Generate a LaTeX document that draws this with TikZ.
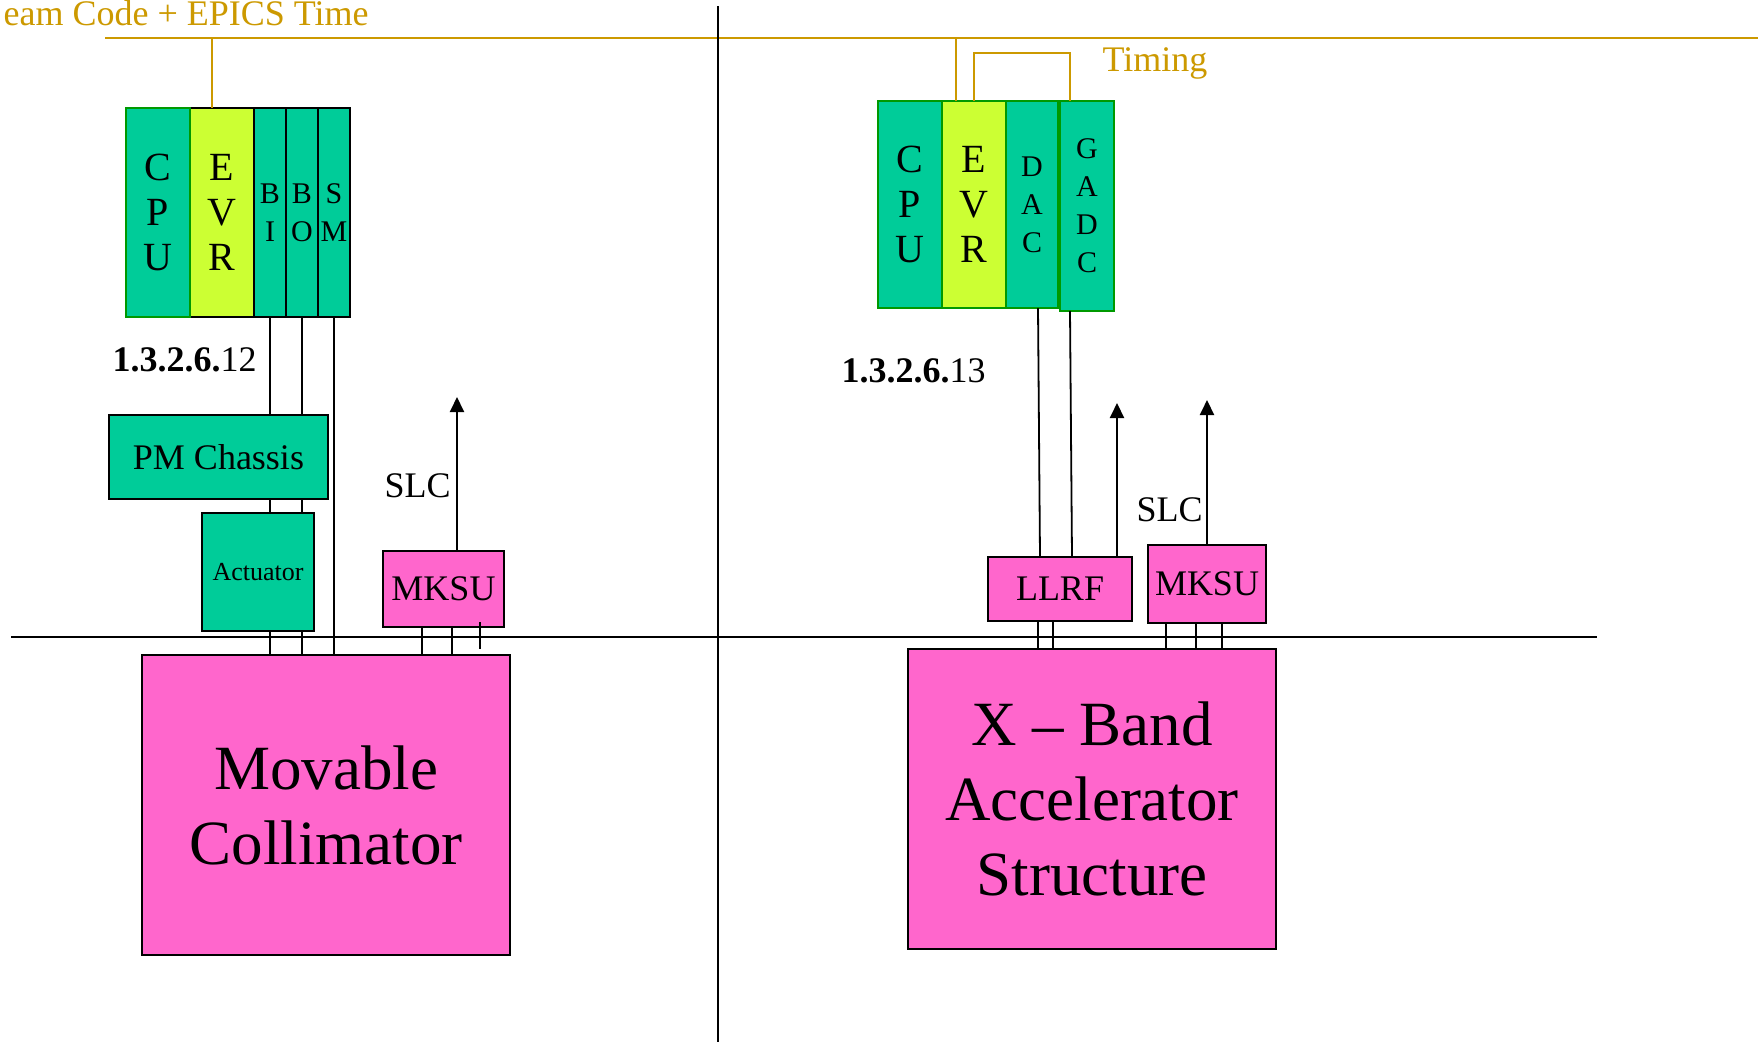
\documentclass[tikz,border=0pt]{standalone}
\usepackage{fontspec}
\setmainfont{Liberation Serif}
\definecolor{cardgreen}{HTML}{00CC99}
\definecolor{evrlime}{HTML}{CCFF33}
\definecolor{rfpink}{HTML}{FF66CC}
\definecolor{timegold}{HTML}{CC9900}
\definecolor{edgegreen}{HTML}{009900}
\usetikzlibrary{arrows.meta,positioning}
\tikzset{
  slot/.style={draw=black,line width=2pt,fill=cardgreen,inner sep=0pt,outer sep=0pt,align=center},
  wideslot/.style={slot,minimum width=64,font=\fontsize{40}{45}\selectfont},
  thinslot/.style={slot,font=\fontsize{30}{38}\selectfont},
  box/.style={draw=black,line width=2pt,fill=cardgreen,inner sep=0pt,outer sep=0pt,align=center},
  hot/.style={box,fill=rfpink},
  wire/.style={line width=1.8pt},
  tline/.style={timegold,line width=2pt},
  tlabel/.style={text=timegold,anchor=base west},
  arr/.style={-{Triangle[length=15pt,width=14pt]},line width=2pt}
}
\begin{document}
\begin{tikzpicture}[x=1pt,y=-1pt,font=\fontsize{36}{40}\selectfont]
    \useasboundingbox (0,0) rectangle (1761,1042);
    % timing bus and dividers
    \node[tlabel] (bcode) at (0,25) {eam Code + EPICS Time};
    \node[tlabel] (timing) at (1099,71) {Timing};
    \coordinate (tbusW) at (105,38);
    \coordinate (tbusE) at (1758,38);
    \draw[tline] (tbusW) -- (tbusE);
    \coordinate (divN) at (718,6);
    \coordinate (divS) at (718,1042);
    \coordinate (beamW) at (11,637);
    \coordinate (beamE) at (1597,637);
    \draw[wire] (divN) -- (divS);
    \draw[wire] (beamW) -- (beamE);

    % left crate
    \node[wideslot,fill=evrlime,minimum height=209] (evrL) at (222,212.5) {E\\V\\R};
    \node[wideslot,draw=edgegreen,minimum height=209,left=0pt of evrL] (cpuL) {C\\P\\U};
    \node[thinslot,minimum width=32,minimum height=209,right=0pt of evrL] (biL) {B\\I};
    \node[thinslot,minimum width=32,minimum height=209,right=0pt of biL] (boL) {B\\O};
    \node[thinslot,minimum width=32,minimum height=209,right=0pt of boL] (smL) {S\\M};
    \draw[tline] ([xshift=-10]evrL.north) -- ([xshift=-10]evrL.north |- tbusW);
    \node[anchor=base west] (idL) at (109,371) {\textbf{1.3.2.6.}12};

    \node[box,minimum width=219,minimum height=84] (pm) at (218.5,457) {PM Chassis};
    \node[box,minimum width=112,minimum height=118,font=\fontsize{26}{30}\selectfont] (act) at (258,572) {Actuator};
    \node[hot,minimum width=368,minimum height=300,font=\fontsize{63}{75}\selectfont] (coll) at (326,805) {Movable\\Collimator};
    \node[hot,minimum width=121,minimum height=76] (mksuL) at (443.5,589) {MKSU};
    \node[anchor=base west] (slcL) at (381,497) {SLC};
    \coordinate (slcLtip) at (457,397);
    \draw[arr] ([xshift=13.5]mksuL.north) -- (slcLtip);

    \foreach \s in {biL,boL} {
      \draw[wire] (\s.south) -- (\s.south |- pm.north);
      \draw[wire] (\s.south |- pm.south) -- (\s.south |- act.north);
      \draw[wire] (\s.south |- act.south) -- (\s.south |- coll.north);
    }
    \draw[wire] (smL.south) -- (smL.south |- coll.north);
    \foreach \dx in {-21.5,8.5}
      \draw[wire] ([xshift=\dx]mksuL.south) -- ([xshift=\dx]mksuL.south |- coll.north);
    \draw[wire] ([xshift=36.5,yshift=5]mksuL.south) -- ++(0,27);

    % right crate
    \node[wideslot,draw=edgegreen,fill=evrlime,minimum height=207] (evrR) at (974,204.5) {E\\V\\R};
    \node[wideslot,draw=edgegreen,minimum height=207,left=0pt of evrR] (cpuR) {C\\P\\U};
    \node[thinslot,draw=edgegreen,minimum width=52,minimum height=207,right=0pt of evrR] (dacR) {D\\A\\C};
    \node[thinslot,draw=edgegreen,minimum width=54,minimum height=210,right=2pt of dacR.north east,anchor=north west] (gadc) {G\\A\\D\\C};
    \draw[tline] ([xshift=-18]evrR.north) -- ([xshift=-18]evrR.north |- tbusW);
    \draw[tline] (evrR.north) -- ++(0,-48) -| ([xshift=-17]gadc.north);
    \node[anchor=base west] (idR) at (838,382) {\textbf{1.3.2.6.}13};

    \node[hot,minimum width=144,minimum height=64] (llrf) at (1060,589) {LLRF};
    \node[hot,minimum width=118,minimum height=78] (mksuR) at (1207,584) {MKSU};
    \node[hot,minimum width=368,minimum height=300,font=\fontsize{63}{75}\selectfont] (xband) at (1092,799) {X – Band\\Accelerator\\Structure};
    \node[anchor=base west] (slcR) at (1133,521) {SLC};
    \draw[wire] ([xshift=6]dacR.south) -- ([xshift=-20]llrf.north);
    \draw[wire] ([xshift=-17]gadc.south) -- ([xshift=12]llrf.north);
    \coordinate (slcRtipA) at (1117,403);
    \coordinate (slcRtipB) at (1207,400);
    \draw[arr] ([xshift=57]llrf.north) -- (slcRtipA);
    \draw[arr] (mksuR.north) -- (slcRtipB);
    \foreach \dx in {-22,-7}
      \draw[wire] ([xshift=\dx]llrf.south) -- ([xshift=\dx]llrf.south |- xband.north);
    \foreach \dx in {-41,-11,15}
      \draw[wire] ([xshift=\dx]mksuR.south) -- ([xshift=\dx]mksuR.south |- xband.north);
  \end{tikzpicture}
\end{document}
